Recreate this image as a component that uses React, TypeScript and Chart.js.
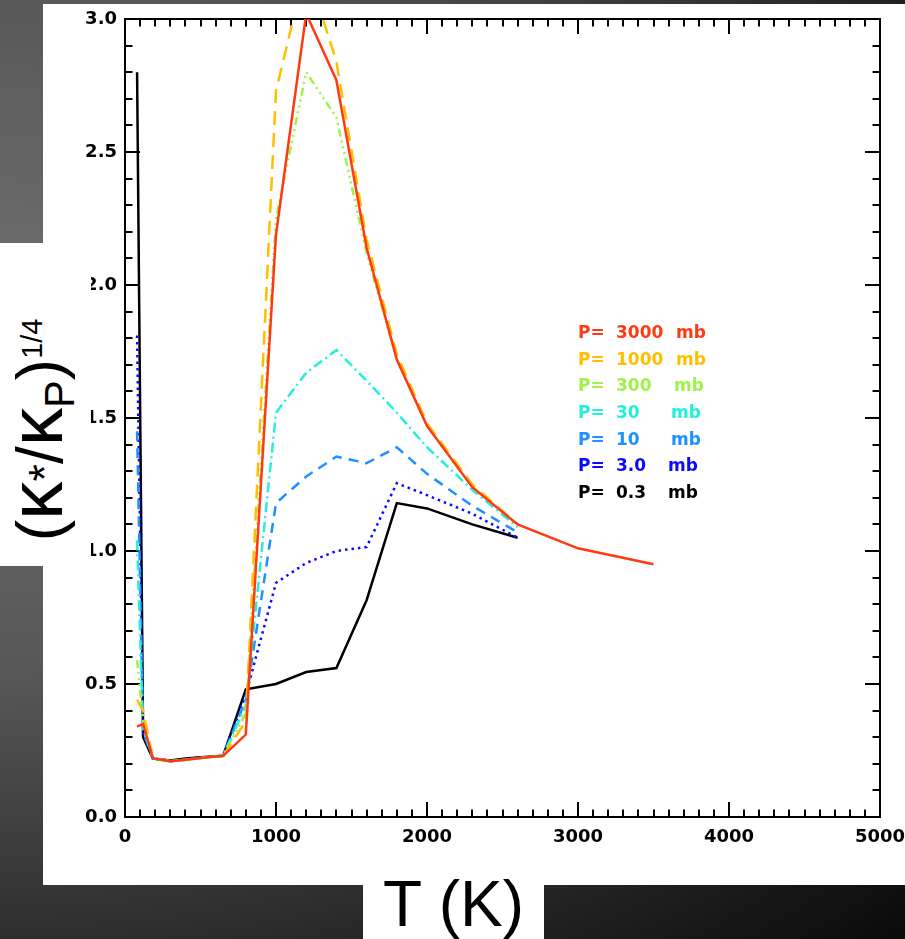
import React, { useEffect, useRef } from 'react';
import { Chart, registerables } from 'chart.js';

Chart.register(...registerables);

// ---- data ----
const T_MAIN = [80, 120, 185, 300, 400, 500, 650, 800, 1000, 1200, 1400, 1600, 1800, 2000, 2300, 2600];
const T_RED = [80, 120, 185, 300, 400, 500, 650, 800, 1000, 1200, 1400, 1600, 1800, 2000, 2300, 2600, 3000, 3500];

const K_P3000 = [0.34, 0.35, 0.22, 0.21, 0.215, 0.222, 0.23, 0.31, 2.19, 3.02, 2.77, 2.14, 1.72, 1.47, 1.24, 1.10, 1.01, 0.95];
const K_P1000 = [0.44, 0.40, 0.22, 0.21, 0.215, 0.222, 0.23, 0.36, 2.73, 3.20, 2.84, 2.17, 1.74, 1.48, 1.25, 1.10];
const K_P300 = [0.59, 0.36, 0.22, 0.21, 0.215, 0.222, 0.23, 0.39, 2.25, 2.80, 2.63, 2.12, 1.72, 1.47, 1.24, 1.10];
const K_P30 = [1.04, 0.33, 0.22, 0.21, 0.215, 0.222, 0.23, 0.42, 1.52, 1.67, 1.755, 1.64, 1.52, 1.39, 1.23, 1.09];
const K_P10 = [1.45, 0.32, 0.22, 0.21, 0.215, 0.222, 0.23, 0.44, 1.18, 1.28, 1.355, 1.33, 1.39, 1.29, 1.17, 1.07];
const K_P3 = [1.81, 0.31, 0.22, 0.21, 0.217, 0.224, 0.23, 0.46, 0.88, 0.955, 1.00, 1.015, 1.255, 1.21, 1.14, 1.05];
const K_P03 = [2.80, 0.30, 0.22, 0.212, 0.22, 0.225, 0.23, 0.48, 0.50, 0.545, 0.56, 0.815, 1.18, 1.16, 1.10, 1.05];

const PRESSURES = ['3000', '1000', '300', '30', '10', '3.0', '0.3'];

const X_MIN = 0;
const X_MAX = 5000;
const X_MAJOR = 1000;
const X_MINOR = 100;
const Y_MIN = 0;
const Y_MAX = 3;
const Y_MAJOR = 0.5;
const Y_MINOR = 0.1;

// legend anchor in data coordinates (first row), row step
const LEGEND_T = 3000;
const LEGEND_V0 = 1.8;
const LEGEND_DV = 0.1;

// ---- styles ----
const SERIES = [
  { p: PRESSURES[0], t: T_RED, v: K_P3000, color: '#ff3a12', dash: [] as number[], width: 2.5 },
  { p: PRESSURES[1], t: T_MAIN, v: K_P1000, color: '#ffbf00', dash: [14, 8], width: 2.5 },
  { p: PRESSURES[2], t: T_MAIN, v: K_P300, color: '#9ef24a', dash: [8, 4, 2, 4, 2, 4, 2, 4], width: 2.5 },
  { p: PRESSURES[3], t: T_MAIN, v: K_P30, color: '#22f0dc', dash: [10, 4, 2, 4], width: 2.5 },
  { p: PRESSURES[4], t: T_MAIN, v: K_P10, color: '#1e90ff', dash: [10, 7], width: 2.5 },
  { p: PRESSURES[5], t: T_MAIN, v: K_P3, color: '#0a0aff', dash: [2.5, 4], width: 2.5 },
  { p: PRESSURES[6], t: T_MAIN, v: K_P03, color: '#000000', dash: [] as number[], width: 2.5 },
];

const MB_OFFSETS = [98, 98, 96, 93, 93, 90, 90];

const framePlugin = {
  id: 'idlFrame',
  beforeDatasetsDraw(chart: any) {
    const { ctx, chartArea: a, scales } = chart;
    const xs = scales.x;
    const ys = scales.y;
    ctx.save();
    ctx.strokeStyle = '#000';
    ctx.lineWidth = 2;
    ctx.beginPath();
    const nx = Math.round((X_MAX - X_MIN) / X_MINOR);
    for (let i = 1; i < nx; i++) {
      const t = X_MIN + i * X_MINOR;
      const px = Math.round(xs.getPixelForValue(t));
      const len = Math.round(t) % X_MAJOR === 0 ? 15 : 7.5;
      ctx.moveTo(px, a.bottom);
      ctx.lineTo(px, a.bottom - len);
      ctx.moveTo(px, a.top);
      ctx.lineTo(px, a.top + len);
    }
    const ny = Math.round((Y_MAX - Y_MIN) / Y_MINOR);
    for (let i = 1; i < ny; i++) {
      const v = Y_MIN + i * Y_MINOR;
      const py = Math.round(ys.getPixelForValue(v));
      const len = i % Math.round(Y_MAJOR / Y_MINOR) === 0 ? 15 : 7.5;
      ctx.moveTo(a.left, py);
      ctx.lineTo(a.left + len, py);
      ctx.moveTo(a.right, py);
      ctx.lineTo(a.right - len, py);
    }
    ctx.stroke();
    ctx.strokeRect(a.left, a.top, a.right - a.left, a.bottom - a.top);
    ctx.restore();
  },
};

const legendPlugin = {
  id: 'pLegend',
  afterDatasetsDraw(chart: any) {
    const { ctx, scales } = chart;
    const x0 = scales.x.getPixelForValue(LEGEND_T);
    ctx.save();
    ctx.font = 'bold 17px "DejaVu Sans"';
    ctx.textBaseline = 'alphabetic';
    ctx.textAlign = 'left';
    SERIES.forEach((s, i) => {
      const y0 = scales.y.getPixelForValue(LEGEND_V0 - i * LEGEND_DV);
      ctx.fillStyle = s.color;
      ctx.fillText('P=', x0, y0);
      ctx.fillText(s.p, x0 + 38, y0);
      ctx.fillText('mb', x0 + MB_OFFSETS[i], y0);
    });
    ctx.restore();
  },
};

function KappaChart() {
  const ref = useRef<HTMLCanvasElement | null>(null);
  useEffect(() => {
    if (!ref.current) return;
    const tickFont = { family: '"DejaVu Sans", Verdana, sans-serif', weight: 'bold' as const, size: 18 };
    const chart = new Chart(ref.current, {
      type: 'line',
      data: {
        datasets: SERIES.map((s) => ({
          label: 'P= ' + s.p + ' mb',
          data: s.t.map((t, i) => ({ x: t, y: s.v[i] })),
          borderColor: s.color,
          backgroundColor: s.color,
          borderWidth: s.width,
          borderDash: s.dash,
          pointRadius: 0,
          tension: 0,
          fill: false,
          clip: 0,
        })),
      },
      options: {
        animation: false,
        responsive: true,
        maintainAspectRatio: false,
        layout: { padding: { top: 15, right: 25, left: 0, bottom: 0 } },
        plugins: { legend: { display: false }, tooltip: { enabled: false } },
        scales: {
          x: {
            type: 'linear',
            min: X_MIN,
            max: X_MAX,
            grid: { display: false, drawTicks: false },
            border: { display: false },
            ticks: {
              stepSize: X_MAJOR,
              color: '#000',
              font: tickFont,
              padding: 10,
              maxRotation: 0,
              autoSkip: false,
              callback: (v: any) => String(v),
            },
            afterFit: (s: any) => {
              s.height = 68;
              s.paddingLeft = 0;
              s.paddingRight = 0;
            },
          },
          y: {
            type: 'linear',
            min: Y_MIN,
            max: Y_MAX,
            grid: { display: false, drawTicks: false },
            border: { display: false },
            ticks: {
              stepSize: Y_MAJOR,
              color: '#000',
              font: tickFont,
              padding: 8,
              callback: (v: any) => Number(v).toFixed(1),
            },
            afterFit: (s: any) => {
              s.width = 82;
              s.paddingTop = 0;
              s.paddingBottom = 0;
            },
          },
        },
      } as any,
      plugins: [framePlugin, legendPlugin],
    });
    return () => chart.destroy();
  }, []);
  return <canvas ref={ref} />;
}

export default function App() {
  const titleFont = '"Liberation Sans", Arial, Helvetica, sans-serif';
  return (
    <div
      style={{
        position: 'fixed',
        left: 0,
        top: 0,
        width: 905,
        height: 939,
        overflow: 'hidden',
        background:
          'radial-gradient(ellipse at 0% 35%, #707070 0%, #575757 40%, #242424 78%, #0a0a0a 100%)',
      }}
    >
      <div style={{ position: 'absolute', left: 43, top: 4, width: 862, height: 881, background: '#fff' }}>
        <KappaChart />
      </div>
      <div
        style={{
          position: 'absolute',
          left: 0,
          top: 243,
          width: 91,
          height: 323,
          background: '#fff',
        }}
      >
        <div
          style={{
            position: 'absolute',
            left: 46,
            top: 187,
            transform: 'translate(-50%, -50%) rotate(-90deg)',
            whiteSpace: 'nowrap',
            fontFamily: titleFont,
            fontSize: 64,
            lineHeight: '74px',
            color: '#000',
          }}
        >
          (<span style={{ fontSize: '1.2em', lineHeight: '0' }}>κ</span>
          <span style={{ fontSize: '0.7em', position: 'relative', top: '-0.05em' }}>*</span>/
          <span style={{ fontSize: '1.2em', lineHeight: '0' }}>κ</span>
          <span style={{ fontSize: '0.65em', position: 'relative', top: '0.3em' }}>P</span>)
          <span style={{ fontSize: '0.45em', position: 'relative', top: '-0.7em' }}>1/4</span>
        </div>
      </div>
      <div
        style={{
          position: 'absolute',
          left: 363,
          top: 866,
          width: 181,
          height: 73,
          background: '#fff',
        }}
      >
        <div
          style={{
            position: 'absolute',
            left: 0,
            top: 1,
            width: '100%',
            textAlign: 'center',
            fontFamily: titleFont,
            fontSize: 64,
            lineHeight: 'normal',
            color: '#000',
            whiteSpace: 'nowrap',
          }}
        >
          T (K)
        </div>
      </div>
    </div>
  );
}
